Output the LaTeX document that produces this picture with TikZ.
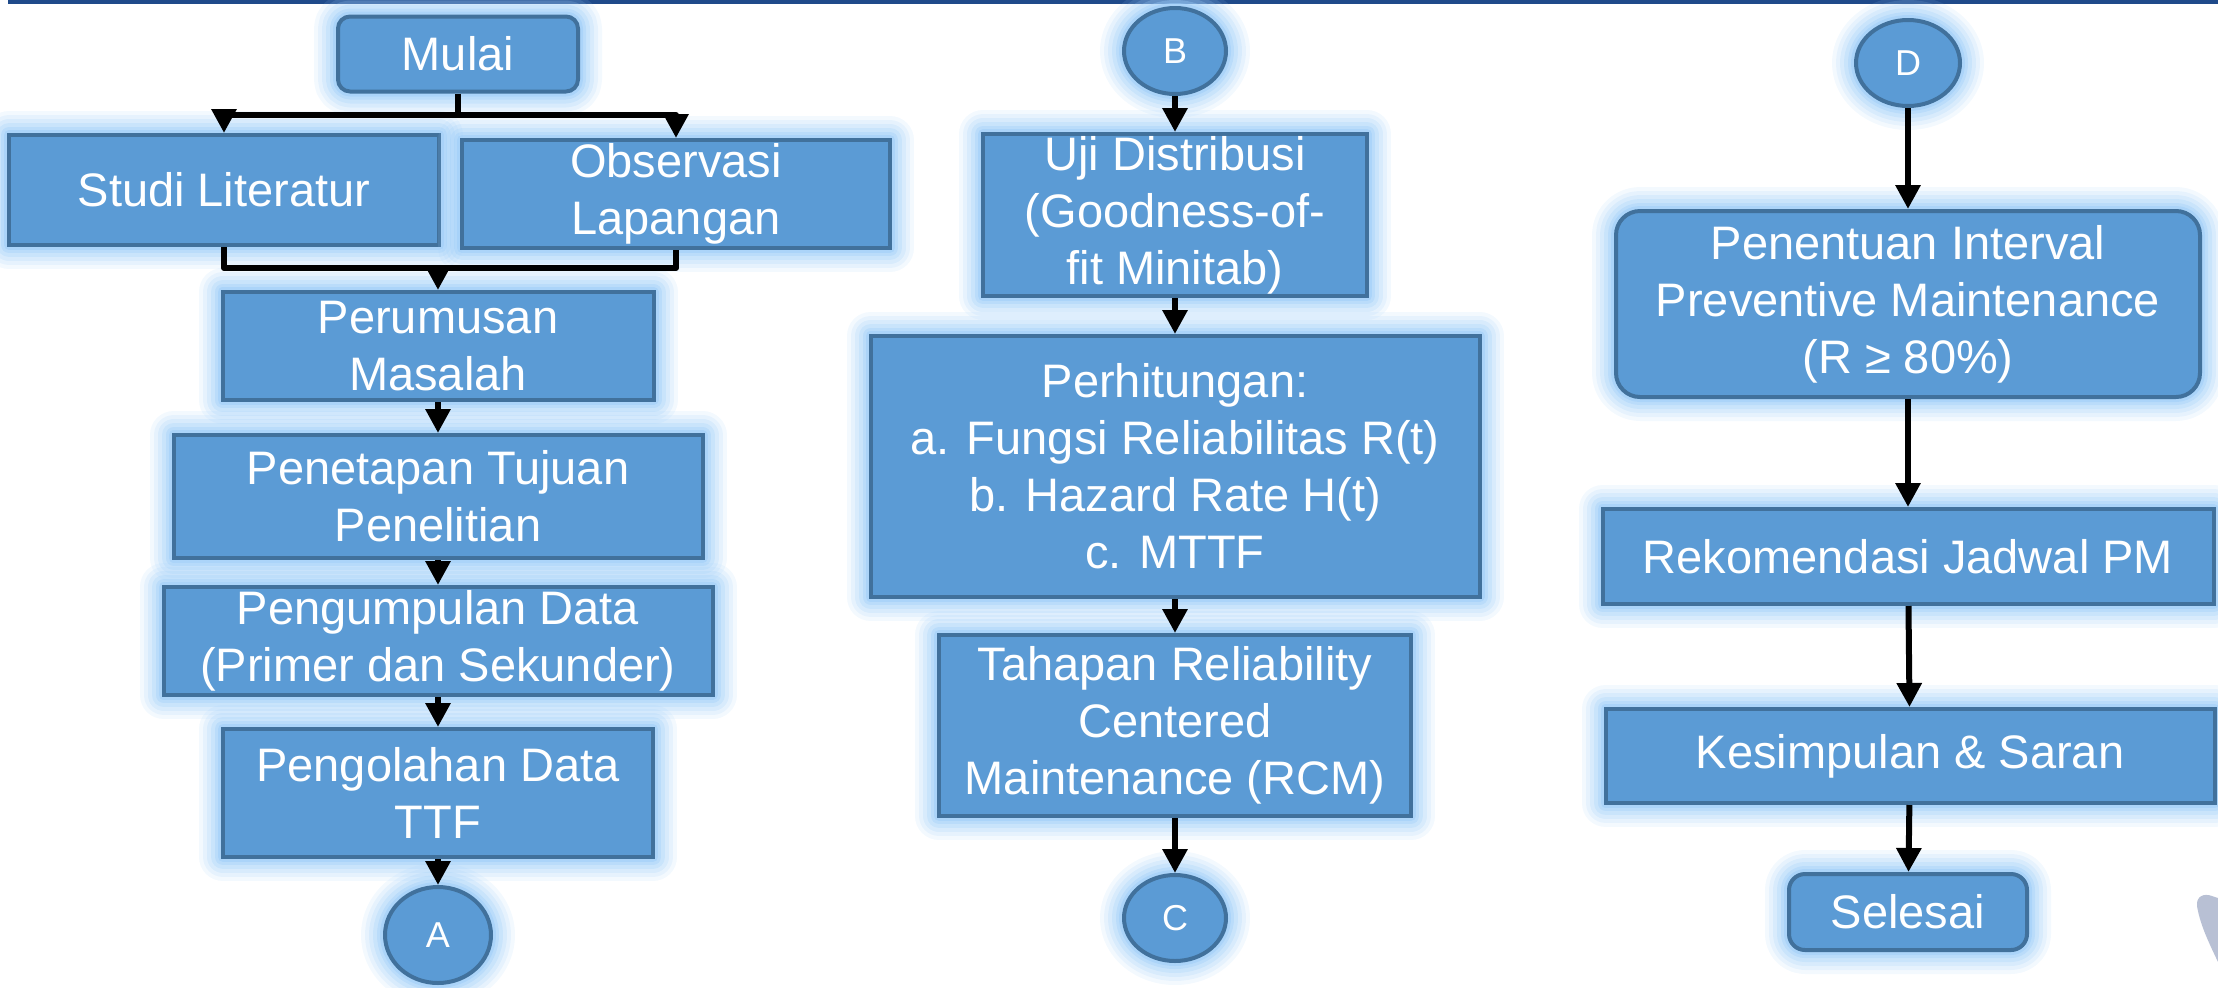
\documentclass[tikz,border=0pt]{standalone}
\usepackage{fontspec}
\setmainfont{Liberation Sans}
\usepackage{tikz}
\usetikzlibrary{arrows.meta,shapes.geometric,positioning}
\definecolor{boxblue}{HTML}{5B9BD5}
\definecolor{boxedge}{HTML}{41719C}
\definecolor{glowblue}{HTML}{9DCDF8}
\definecolor{navy}{HTML}{1F4A8A}
\definecolor{markgray}{HTML}{B8C0D4}
\tikzset{
  glow/.style={preaction={draw=glowblue,line width=24pt,draw opacity=.12,line join=round},
               preaction={draw=glowblue,line width=20pt,draw opacity=.15,line join=round},
               preaction={draw=glowblue,line width=16pt,draw opacity=.2,line join=round},
               preaction={draw=glowblue,line width=12pt,draw opacity=.25,line join=round},
               preaction={draw=glowblue,line width=8pt,draw opacity=.35,line join=round},
               preaction={draw=glowblue,line width=5pt,draw opacity=.5,line join=round}},
  proc/.style={rectangle,glow,fill=boxblue,draw=boxedge,line width=2pt,text=white,
               inner sep=0pt,align=center,font=\fontsize{23.5}{28.5}\selectfont},
  term/.style={proc,rounded corners=6pt},
  conn/.style={ellipse,glow,fill=boxblue,draw=boxedge,line width=2pt,text=white,
               inner sep=0pt,font=\fontsize{18}{20}\selectfont},
  arr/.style={-{Triangle[length=12pt,width=12pt]},line width=3pt},
  link/.style={line width=3pt,line join=round}
}

\begin{document}
\begin{tikzpicture}[x=0.5pt,y=-0.5pt]
\useasboundingbox (0,0) rectangle (2218,987);
\draw[navy,line width=2pt] (8,1.5) -- (2218,1.5);

\node[term,minimum width=120pt,minimum height=37.5pt] (mulai) at (458,54) {Mulai};
\node[proc,minimum width=215pt,minimum height=55pt] (studi) at (224,190) {Studi Literatur};
\node[proc,minimum width=214pt,minimum height=54pt] (obs) at (676,194) {Observasi\\Lapangan};
\node[proc,minimum width=215.5pt,minimum height=54pt] (rumus) at (438,346) {Perumusan\\Masalah};
\node[proc,minimum width=264.5pt,minimum height=61.5pt] (tujuan) at (438,496.5) {Penetapan Tujuan\\Penelitian};
\node[proc,minimum width=274.5pt,minimum height=54pt] (kumpul) at (438,641) {Pengumpulan Data\\(Primer dan Sekunder)};
\node[proc,minimum width=215pt,minimum height=64pt] (olah) at (438,793) {Pengolahan Data\\TTF};
\node[conn,minimum width=53pt,minimum height=48pt] (A) at (438,935) {A};

\node[conn,minimum width=51pt,minimum height=43pt] (B) at (1175,51) {B};
\node[proc,minimum width=192pt,minimum height=81pt] (uji) at (1175,215) {Uji Distribusi\\(Goodness-of-\\fit Minitab)};
\node[proc,minimum width=304.5pt,minimum height=130.5pt] (hitung) at (1175,466.5) {Perhitungan:\\a. Fungsi Reliabilitas R(t)\\b. Hazard Rate H(t)\\c. MTTF};
\node[proc,minimum width=236pt,minimum height=90.5pt] (rcm) at (1175,725.5) {Tahapan Reliability\\Centered\\Maintenance (RCM)};
\node[conn,minimum width=51pt,minimum height=43pt] (C) at (1175,918) {C};

\node[conn,minimum width=52pt,minimum height=43pt] (D) at (1908,63) {D};
\node[proc,rounded corners=12pt,minimum width=292pt,minimum height=93pt] (interval) at (1908,304) {Penentuan Interval\\Preventive Maintenance\\(R ≥ 80\%)};
\node[proc,minimum width=305.5pt,minimum height=47.5pt] (jadwal) at (1908,556.5) {Rekomendasi Jadwal PM};
\node[proc,minimum width=304.5pt,minimum height=47pt] (saran) at (1910,756) {Kesimpulan \& Saran};
\node[term,rounded corners=8pt,minimum width=119pt,minimum height=38pt] (selesai) at (1908,912) {Selesai};

\coordinate (split) at (458,115);
\coordinate (merge) at (438,268);
\draw[link] (mulai) -- (split);
\draw[arr,line join=round] (split) -| (studi);
\draw[arr,line join=round] (split) -| (obs);
\draw[link] (studi) |- (merge) -| (obs);
\draw[arr] (merge) -- (rumus);

\foreach \a/\b in {rumus/tujuan,tujuan/kumpul,kumpul/olah,olah/A,
                   B/uji,uji/hitung,hitung/rcm,rcm/C,
                   D/interval,interval/jadwal,jadwal/saran,saran/selesai}
  \draw[arr] (\a) -- (\b);

\fill[markgray] (2197,906) .. controls (2196,896) and (2204,893) .. (2212,896)
  -- (2218,898) -- (2218,962) .. controls (2210,945) and (2200,925) .. (2197,906) -- cycle;
\end{tikzpicture}
\end{document}
